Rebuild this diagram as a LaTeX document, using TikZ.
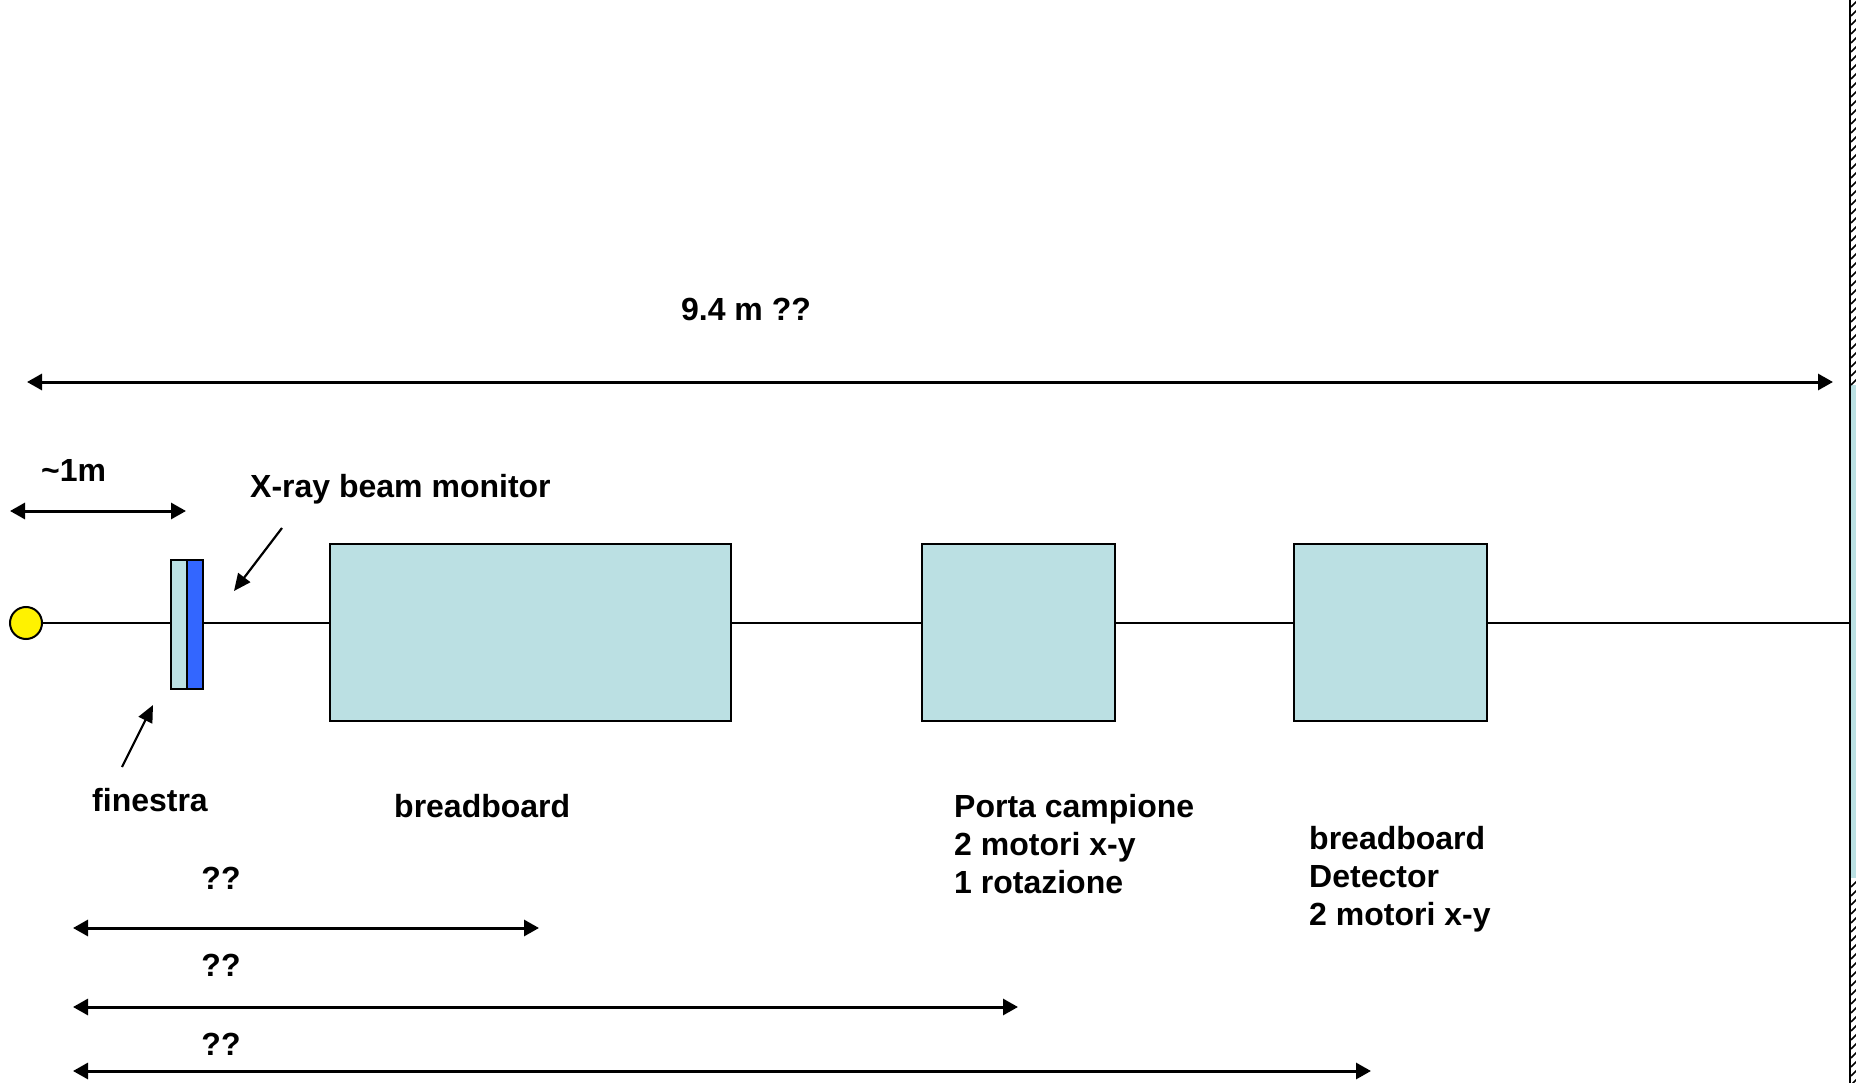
\documentclass[tikz,border=0pt]{standalone}
\usepackage{fontspec}
\setmainfont{Liberation Sans}
\usetikzlibrary{arrows.meta,backgrounds}
\definecolor{lblue}{RGB}{187,224,227}
\definecolor{wblue}{RGB}{51,102,255}
\begin{document}
\begin{tikzpicture}[x=1pt,y=-1pt,
  lbl/.style={font=\fontsize{32}{38}\selectfont\bfseries, inner sep=0pt, align=left},
  dim/.style={line width=3pt, {Triangle[length=15pt,width=16pt]}-{Triangle[length=15pt,width=16pt]}},
  ptr/.style={line width=2.2pt, -{Triangle[length=17pt,width=15pt]}},
  boxn/.style={draw, line width=2pt, fill=lblue, inner sep=0pt, anchor=north west},
  beam/.style={line width=2pt}]
\useasboundingbox (0,0) rectangle (1856,1083);

% source and components
\node[circle, draw, fill=yellow, line width=2pt, minimum size=32pt, inner sep=0pt] (src) at (26,623) {};
\node[boxn, minimum width=16pt, minimum height=129pt] (winA) at (170,559) {};
\node[boxn, fill=wblue, minimum width=16pt, minimum height=129pt] (winB) at (186,559) {};
\node[boxn, minimum width=401pt, minimum height=177pt] (bb) at (329,543) {};
\node[boxn, minimum width=193pt, minimum height=177pt] (pc) at (921,543) {};
\node[boxn, minimum width=193pt, minimum height=177pt] (det) at (1293,543) {};
\coordinate (wall) at (1850,623);

\begin{pgfonlayer}{background}
  \draw[beam] (src.center) -- (wall);
\end{pgfonlayer}

% wall
\fill[lblue] (1851,385) rectangle (1860,878);
\foreach \y in {0,9,...,378} \draw[line width=1.5pt] (1851,\y+7) -- (1858,\y);
\foreach \y in {880,889,...,1080} \draw[line width=1.5pt] (1851,\y+7) -- (1858,\y);
\draw[line width=2.5pt] (1850,0) -- (1850,1083);

% dimension arrows
\coordinate (a1) at (27,382);   \coordinate (b1) at (1833,382);
\coordinate (a2) at (10,511);   \coordinate (b2) at (186,511);
\coordinate (a3) at (73,928);   \coordinate (b3) at (539,928);
\coordinate (a4) at (73,1007);  \coordinate (b4) at (1018,1007);
\coordinate (a5) at (73,1071);  \coordinate (b5) at (1371,1071);
\draw[dim] (a1) -- (b1);
\draw[dim] (a2) -- (b2);
\draw[dim] (a3) -- (b3);
\draw[dim] (a4) -- (b4);
\draw[dim] (a5) -- (b5);

% pointers
\coordinate (p1) at (282,528); \coordinate (q1) at (234,591);
\coordinate (p2) at (122,767); \coordinate (q2) at (153,705);
\draw[ptr] (p1) -- (q1);
\draw[ptr] (p2) -- (q2);

% labels
\node[lbl, anchor=base] (t94) at (746,321) {9.4 m ??};
\node[lbl, anchor=base west] (t1m) at (41,481) {\textasciitilde 1m};
\node[lbl, anchor=base west] (txr) at (250,497) {X-ray beam monitor};
\node[lbl, anchor=base west] (tfin) at (92,811) {finestra};
\node[lbl, anchor=base west] (tbb) at (394,817) {breadboard};
\node[lbl, anchor=north west] (tpc) at (954,794) {Porta campione\\2 motori x-y\\1 rotazione};
\node[lbl, anchor=north west] (tdet) at (1309,826) {breadboard\\Detector\\2 motori x-y};
\node[lbl, anchor=base] (q1t) at (221,889) {??};
\node[lbl, anchor=base] (q2t) at (221,976) {??};
\node[lbl, anchor=base] (q3t) at (221,1055) {??};
\end{tikzpicture}
\end{document}
